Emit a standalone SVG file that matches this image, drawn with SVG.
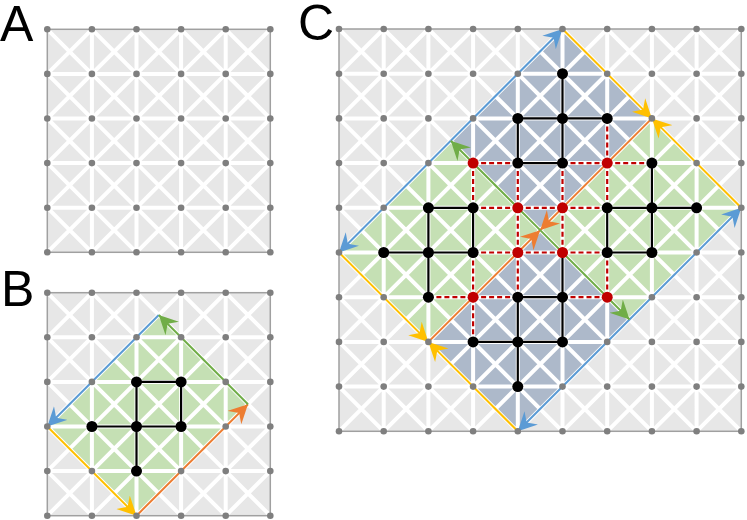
<svg xmlns="http://www.w3.org/2000/svg" xmlns:xlink="http://www.w3.org/1999/xlink" width="747" height="520" viewBox="0 0 747 520">
<defs>
<style>
.bg{fill:#e7e7e7}
.wl{stroke:#fff;stroke-width:4;fill:none}
.bd{fill:none;stroke:#a0a0a0;stroke-width:1.5}
.gd{fill:#7f7f7f}
.lbl{font-family:"Liberation Sans",Arial,sans-serif;font-size:50px;fill:#000}
.e{stroke:#000;stroke-width:2.2;fill:none}
.rd{stroke:#c00000;stroke-width:2.2;stroke-dasharray:5 3;fill:none}
.nb{fill:#000}
.nr{fill:#c00000}
.fg{fill:#c5e0b4}
.fs{fill:#adb9ca}
.cb{stroke:#5b9bd5;stroke-width:2;fill:none;marker-end:url(#mB)}
.cy{stroke:#ffc000;stroke-width:2;fill:none;marker-end:url(#mY)}
.co{stroke:#ed7d31;stroke-width:2;fill:none;marker-end:url(#mO)}
.cg{stroke:#70ad47;stroke-width:2;fill:none;marker-end:url(#mG)}
</style>
<marker id="mB" markerUnits="userSpaceOnUse" markerWidth="20" markerHeight="20" refX="19" refY="10" orient="auto"><path d="M19 10L0 0.5L6.5 10L0 19.5Z" fill="#5b9bd5"/></marker>
<marker id="mY" markerUnits="userSpaceOnUse" markerWidth="20" markerHeight="20" refX="19" refY="10" orient="auto"><path d="M19 10L0 0.5L6.5 10L0 19.5Z" fill="#ffc000"/></marker>
<marker id="mO" markerUnits="userSpaceOnUse" markerWidth="20" markerHeight="20" refX="19" refY="10" orient="auto"><path d="M19 10L0 0.5L6.5 10L0 19.5Z" fill="#ed7d31"/></marker>
<marker id="mG" markerUnits="userSpaceOnUse" markerWidth="20" markerHeight="20" refX="19" refY="10" orient="auto"><path d="M19 10L0 0.5L6.5 10L0 19.5Z" fill="#70ad47"/></marker>
<path id="wl5" class="wl" d="M44.6 0V223M89.2 0V223M133.8 0V223M178.4 0V223M0 44.6H223M0 89.2H223M0 133.8H223M0 178.4H223M0 178.4L44.6 223M0 133.8L89.2 223M0 89.2L133.8 223M0 44.6L178.4 223M0 0L223 223M44.6 0L223 178.4M89.2 0L223 133.8M133.8 0L223 89.2M178.4 0L223 44.6M44.6 0L0 44.6M89.2 0L0 89.2M133.8 0L0 133.8M178.4 0L0 178.4M223 0L0 223M223 44.6L44.6 223M223 89.2L89.2 223M223 133.8L133.8 223M223 178.4L178.4 223"/>
<g id="row6" class="gd"><circle cx="0" cy="0" r="3.3"/><circle cx="44.6" cy="0" r="3.3"/><circle cx="89.2" cy="0" r="3.3"/><circle cx="133.8" cy="0" r="3.3"/><circle cx="178.4" cy="0" r="3.3"/><circle cx="223" cy="0" r="3.3"/></g>
<g id="dots5"><use href="#row6"/><use href="#row6" y="44.6"/><use href="#row6" y="89.2"/><use href="#row6" y="133.8"/><use href="#row6" y="178.4"/><use href="#row6" y="223"/></g>
<path id="wl9" class="wl" d="M44.7 0V402.3M89.4 0V402.3M134.1 0V402.3M178.8 0V402.3M223.5 0V402.3M268.2 0V402.3M312.9 0V402.3M357.6 0V402.3M0 44.7H402.3M0 89.4H402.3M0 134.1H402.3M0 178.8H402.3M0 223.5H402.3M0 268.2H402.3M0 312.9H402.3M0 357.6H402.3M0 357.6L44.7 402.3M0 312.9L89.4 402.3M0 268.2L134.1 402.3M0 223.5L178.8 402.3M0 178.8L223.5 402.3M0 134.1L268.2 402.3M0 89.4L312.9 402.3M0 44.7L357.6 402.3M0 0L402.3 402.3M44.7 0L402.3 357.6M89.4 0L402.3 312.9M134.1 0L402.3 268.2M178.8 0L402.3 223.5M223.5 0L402.3 178.8M268.2 0L402.3 134.1M312.9 0L402.3 89.4M357.6 0L402.3 44.7M44.7 0L0 44.7M89.4 0L0 89.4M134.1 0L0 134.1M178.8 0L0 178.8M223.5 0L0 223.5M268.2 0L0 268.2M312.9 0L0 312.9M357.6 0L0 357.6M402.3 0L0 402.3M402.3 44.7L44.7 402.3M402.3 89.4L89.4 402.3M402.3 134.1L134.1 402.3M402.3 178.8L178.8 402.3M402.3 223.5L223.5 402.3M402.3 268.2L268.2 402.3M402.3 312.9L312.9 402.3M402.3 357.6L357.6 402.3"/>
<g id="row10" class="gd"><circle cx="0" cy="0" r="3.3"/><circle cx="44.7" cy="0" r="3.3"/><circle cx="89.4" cy="0" r="3.3"/><circle cx="134.1" cy="0" r="3.3"/><circle cx="178.8" cy="0" r="3.3"/><circle cx="223.5" cy="0" r="3.3"/><circle cx="268.2" cy="0" r="3.3"/><circle cx="312.9" cy="0" r="3.3"/><circle cx="357.6" cy="0" r="3.3"/><circle cx="402.3" cy="0" r="3.3"/></g>
<g id="dots9"><use href="#row10"/><use href="#row10" y="44.7"/><use href="#row10" y="89.4"/><use href="#row10" y="134.1"/><use href="#row10" y="178.8"/><use href="#row10" y="223.5"/><use href="#row10" y="268.2"/><use href="#row10" y="312.9"/><use href="#row10" y="357.6"/><use href="#row10" y="402.3"/></g>
</defs>
<rect width="747" height="520" fill="#fff"/>

<g id="labels">
<text class="lbl" x="0" y="41">A</text>
<text class="lbl" x="1" y="306">B</text>
<text class="lbl" x="298" y="40">C</text>
</g>

<g id="panelA" transform="translate(47.3,29.3)">
<rect class="bg" width="223" height="223"/>
<use href="#wl5"/>
<rect class="bd" width="223" height="223"/>
<use href="#dots5"/>
</g>

<g id="panelB" transform="translate(47.3,292.7)">
<rect class="bg" width="223" height="223"/>
<polygon class="fg" points="111.5,22.3 200.7,111.5 89.2,223 0,133.8"/>
<use href="#wl5"/>
<rect class="bd" width="223" height="223"/>
<g id="B-boundary">
<path class="cb" d="M111.5 22.3L0 133.8"/>
<path class="cy" d="M0 133.8L89.2 223"/>
<path class="co" d="M89.2 223L200.7 111.5"/>
<path class="cg" d="M200.7 111.5L111.5 22.3"/>
</g>
<use href="#dots5"/>
<g id="B-connectors">
<path class="e" d="M89.2 89.2H133.8V133.8M89.2 89.2V178.4M44.6 133.8H133.8"/>
</g>
<g id="B-n-2-2"><circle class="nb" cx="89.2" cy="89.2" r="5.5"/></g>
<g id="B-n-3-2"><circle class="nb" cx="133.8" cy="89.2" r="5.5"/></g>
<g id="B-n-1-3"><circle class="nb" cx="44.6" cy="133.8" r="5.5"/></g>
<g id="B-n-2-3"><circle class="nb" cx="89.2" cy="133.8" r="5.5"/></g>
<g id="B-n-3-3"><circle class="nb" cx="133.8" cy="133.8" r="5.5"/></g>
<g id="B-n-2-4"><circle class="nb" cx="89.2" cy="178.4" r="5.5"/></g>
</g>

<g id="panelC" transform="translate(339,29)">
<rect class="bg" width="402.3" height="402.3"/>
<polygon class="fs" points="223.5,0 312.9,89.4 201.15,201.15 111.75,111.75"/>
<polygon class="fs" points="201.15,201.15 290.55,290.55 178.8,402.3 89.4,312.9"/>
<polygon class="fg" points="111.75,111.75 201.15,201.15 89.4,312.9 0,223.5"/>
<polygon class="fg" points="312.9,89.4 402.3,178.8 290.55,290.55 201.15,201.15"/>
<use href="#wl9"/>
<rect class="bd" width="402.3" height="402.3"/>
<g id="C-boundary">
<path class="cb" d="M111.75 111.75L0 223.5"/>
<path class="cb" d="M111.75 111.75L223.5 0"/>
<path class="cb" d="M290.55 290.55L402.3 178.8"/>
<path class="cb" d="M290.55 290.55L178.8 402.3"/>
<path class="cy" d="M223.5 0L312.9 89.4"/>
<path class="cy" d="M402.3 178.8L312.9 89.4"/>
<path class="cy" d="M0 223.5L89.4 312.9"/>
<path class="cy" d="M178.8 402.3L89.4 312.9"/>
<path class="co" d="M312.9 89.4L201.15 201.15"/>
<path class="co" d="M89.4 312.9L201.15 201.15"/>
<path class="cg" d="M201.15 201.15L111.75 111.75"/>
<path class="cg" d="M201.15 201.15L290.55 290.55"/>
</g>
<use href="#dots9"/>
<g id="C-connectors">
<path class="e" d="M89.4 178.8H134.1M134.1 178.8V223.5M89.4 178.8V268.2M44.7 223.5H134.1M223.5 44.7V134.1M178.8 89.4H268.2M178.8 89.4V134.1M178.8 134.1H223.5M312.9 134.1V223.5M268.2 178.8H357.6M268.2 178.8V223.5M268.2 223.5H312.9M178.8 268.2H223.5M178.8 268.2V357.6M134.1 312.9H223.5M223.5 223.5V312.9"/>
<path class="rd" d="M134.1 134.1H178.8M134.1 134.1V178.8M178.8 134.1V178.8M134.1 178.8H178.8M178.8 178.8H223.5M223.5 134.1V178.8M223.5 134.1H268.2M268.2 89.4V134.1M268.2 134.1H312.9M268.2 134.1V178.8M223.5 178.8H268.2M178.8 178.8V223.5M223.5 178.8V223.5M134.1 223.5H178.8M178.8 223.5H223.5M223.5 223.5H268.2M268.2 223.5V268.2M223.5 268.2H268.2M134.1 223.5V268.2M178.8 223.5V268.2M89.4 268.2H134.1M134.1 268.2H178.8M134.1 268.2V312.9"/>
</g>
<g id="C-n-5-1"><circle class="nb" cx="223.5" cy="44.7" r="5.5"/></g>
<g id="C-n-4-2"><circle class="nb" cx="178.8" cy="89.4" r="5.5"/></g>
<g id="C-n-5-2"><circle class="nb" cx="223.5" cy="89.4" r="5.5"/></g>
<g id="C-n-6-2"><circle class="nb" cx="268.2" cy="89.4" r="5.5"/></g>
<g id="C-n-3-3"><circle class="nr" cx="134.1" cy="134.1" r="5.5"/></g>
<g id="C-n-4-3"><circle class="nb" cx="178.8" cy="134.1" r="5.5"/></g>
<g id="C-n-5-3"><circle class="nb" cx="223.5" cy="134.1" r="5.5"/></g>
<g id="C-n-6-3"><circle class="nr" cx="268.2" cy="134.1" r="5.5"/></g>
<g id="C-n-7-3"><circle class="nb" cx="312.9" cy="134.1" r="5.5"/></g>
<g id="C-n-2-4"><circle class="nb" cx="89.4" cy="178.8" r="5.5"/></g>
<g id="C-n-3-4"><circle class="nb" cx="134.1" cy="178.8" r="5.5"/></g>
<g id="C-n-4-4"><circle class="nr" cx="178.8" cy="178.8" r="5.5"/></g>
<g id="C-n-5-4"><circle class="nr" cx="223.5" cy="178.8" r="5.5"/></g>
<g id="C-n-6-4"><circle class="nb" cx="268.2" cy="178.8" r="5.5"/></g>
<g id="C-n-7-4"><circle class="nb" cx="312.9" cy="178.8" r="5.5"/></g>
<g id="C-n-8-4"><circle class="nb" cx="357.6" cy="178.8" r="5.5"/></g>
<g id="C-n-1-5"><circle class="nb" cx="44.7" cy="223.5" r="5.5"/></g>
<g id="C-n-2-5"><circle class="nb" cx="89.4" cy="223.5" r="5.5"/></g>
<g id="C-n-3-5"><circle class="nb" cx="134.1" cy="223.5" r="5.5"/></g>
<g id="C-n-4-5"><circle class="nr" cx="178.8" cy="223.5" r="5.5"/></g>
<g id="C-n-5-5"><circle class="nr" cx="223.5" cy="223.5" r="5.5"/></g>
<g id="C-n-6-5"><circle class="nb" cx="268.2" cy="223.5" r="5.5"/></g>
<g id="C-n-7-5"><circle class="nb" cx="312.9" cy="223.5" r="5.5"/></g>
<g id="C-n-2-6"><circle class="nb" cx="89.4" cy="268.2" r="5.5"/></g>
<g id="C-n-3-6"><circle class="nr" cx="134.1" cy="268.2" r="5.5"/></g>
<g id="C-n-4-6"><circle class="nb" cx="178.8" cy="268.2" r="5.5"/></g>
<g id="C-n-5-6"><circle class="nb" cx="223.5" cy="268.2" r="5.5"/></g>
<g id="C-n-6-6"><circle class="nr" cx="268.2" cy="268.2" r="5.5"/></g>
<g id="C-n-3-7"><circle class="nb" cx="134.1" cy="312.9" r="5.5"/></g>
<g id="C-n-4-7"><circle class="nb" cx="178.8" cy="312.9" r="5.5"/></g>
<g id="C-n-5-7"><circle class="nb" cx="223.5" cy="312.9" r="5.5"/></g>
<g id="C-n-4-8"><circle class="nb" cx="178.8" cy="357.6" r="5.5"/></g>
</g>
</svg>
